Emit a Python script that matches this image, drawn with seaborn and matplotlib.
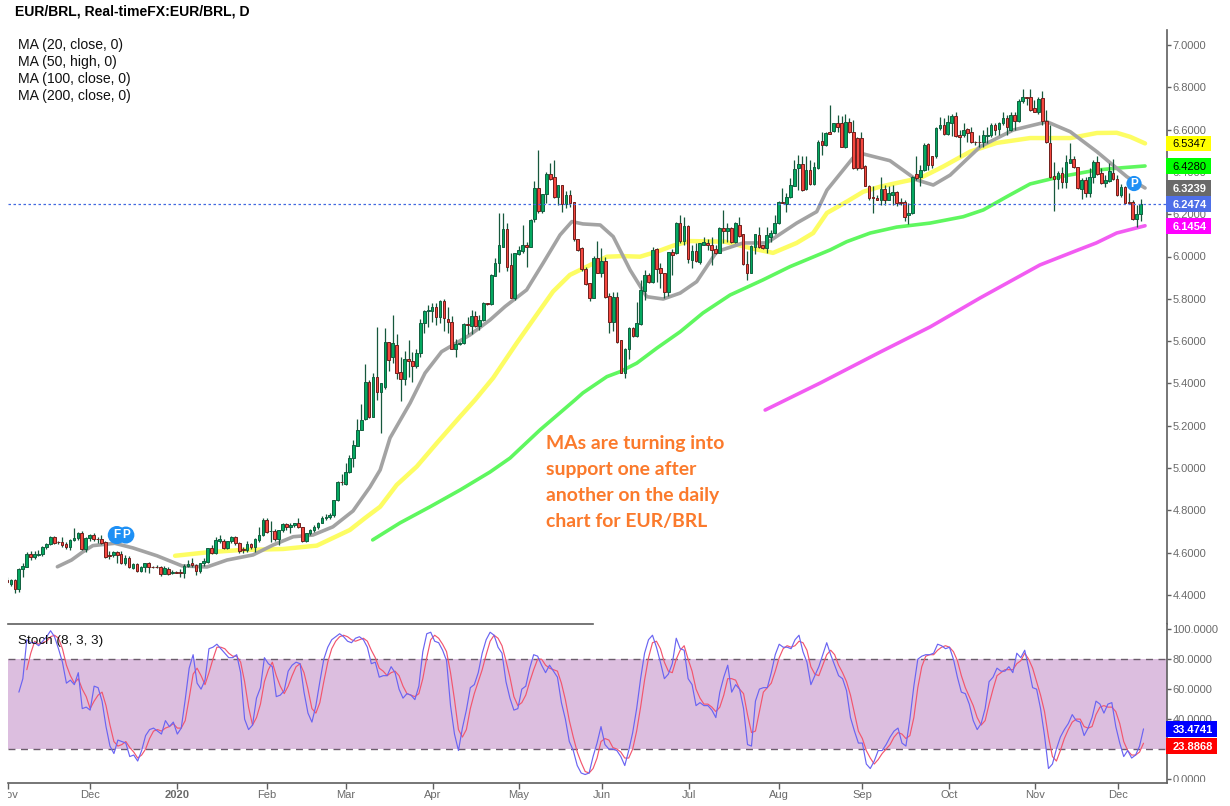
import numpy as np
import matplotlib
matplotlib.use("Agg")
import matplotlib.pyplot as plt
import seaborn as sns
from matplotlib.patches import Rectangle
from matplotlib.transforms import Bbox, TransformedBbox

# daily candles
bar_open = [
    4.470, 4.451, 4.470, 4.426, 4.521, 4.533, 4.593, 4.581, 4.590, 4.593,
    4.625, 4.640, 4.672, 4.650, 4.648, 4.639, 4.628, 4.659, 4.667, 4.691,
    4.615, 4.667, 4.681, 4.664, 4.662, 4.648, 4.587, 4.587, 4.603, 4.593,
    4.552, 4.573, 4.527, 4.544, 4.514, 4.530, 4.549, 4.532, 4.532, 4.532,
    4.500, 4.522, 4.503, 4.510, 4.506, 4.502, 4.538, 4.549, 4.540, 4.514,
    4.549, 4.557, 4.620, 4.599, 4.656, 4.656, 4.620, 4.653, 4.672, 4.644,
    4.615, 4.612, 4.640, 4.625, 4.659, 4.683, 4.754, 4.700, 4.703, 4.662,
    4.707, 4.733, 4.719, 4.730, 4.738, 4.719, 4.656, 4.691, 4.707, 4.719,
    4.741, 4.762, 4.767, 4.779, 4.848, 4.935, 4.923, 4.982, 5.045, 5.105,
    5.182, 5.230, 5.408, 5.239, 5.428, 5.361, 5.384, 5.594, 5.523, 5.580,
    5.452, 5.419, 5.517, 5.504, 5.484, 5.542, 5.684, 5.740, 5.744, 5.759,
    5.712, 5.789, 5.703, 5.692, 5.565, 5.585, 5.589, 5.681, 5.673, 5.719,
    5.673, 5.700, 5.778, 5.774, 5.909, 5.968, 6.046, 6.130, 5.960, 5.802,
    6.012, 6.028, 6.054, 6.046, 6.176, 6.322, 6.217, 6.294, 6.390, 6.374,
    6.283, 6.338, 6.248, 6.291, 6.256, 6.081, 6.042, 5.939, 5.873, 5.805,
    5.993, 5.923, 5.979, 5.813, 5.692, 5.810, 5.605, 5.448, 5.561, 5.660,
    5.624, 5.681, 5.838, 5.912, 5.881, 6.034, 5.944, 5.920, 5.830, 6.020,
    6.015, 6.160, 6.075, 6.144, 5.983, 6.027, 5.976, 6.054, 6.065, 6.054,
    6.034, 6.018, 6.133, 6.122, 6.133, 6.070, 6.149, 6.106, 5.963, 5.924,
    6.046, 6.102, 6.053, 6.042, 6.094, 6.110, 6.157, 6.259, 6.247, 6.280,
    6.334, 6.417, 6.438, 6.318, 6.410, 6.343, 6.417, 6.547, 6.526, 6.591,
    6.595, 6.633, 6.633, 6.520, 6.638, 6.591, 6.562, 6.559, 6.428, 6.334,
    6.279, 6.277, 6.265, 6.318, 6.265, 6.291, 6.307, 6.260, 6.257, 6.194,
    6.205, 6.389, 6.378, 6.410, 6.532, 6.473, 6.473, 6.606, 6.622, 6.580,
    6.633, 6.665, 6.575, 6.575, 6.602, 6.591, 6.542, 6.543, 6.542, 6.570,
    6.575, 6.622, 6.602, 6.630, 6.657, 6.599, 6.670, 6.643, 6.733, 6.753,
    6.753, 6.701, 6.685, 6.748, 6.643, 6.536, 6.381, 6.365, 6.397, 6.353,
    6.444, 6.460, 6.422, 6.320, 6.362, 6.302, 6.378, 6.449, 6.394, 6.346,
    6.359, 6.394, 6.365, 6.291, 6.328, 6.260, 6.257, 6.178, 6.201,
]
bar_high = [
    4.483, 4.476, 4.473, 4.525, 4.549, 4.604, 4.609, 4.609, 4.612, 4.631,
    4.647, 4.678, 4.678, 4.656, 4.675, 4.651, 4.662, 4.714, 4.699, 4.703,
    4.675, 4.688, 4.691, 4.675, 4.683, 4.653, 4.609, 4.609, 4.609, 4.609,
    4.588, 4.584, 4.552, 4.549, 4.536, 4.552, 4.557, 4.536, 4.541, 4.536,
    4.536, 4.530, 4.517, 4.514, 4.521, 4.544, 4.565, 4.573, 4.546, 4.552,
    4.573, 4.623, 4.636, 4.675, 4.683, 4.662, 4.656, 4.678, 4.678, 4.651,
    4.628, 4.656, 4.647, 4.667, 4.722, 4.762, 4.762, 4.751, 4.710, 4.707,
    4.741, 4.741, 4.741, 4.741, 4.762, 4.722, 4.694, 4.710, 4.730, 4.746,
    4.773, 4.782, 4.785, 4.851, 4.938, 4.971, 5.025, 5.061, 5.132, 5.230,
    5.302, 5.491, 5.416, 5.447, 5.665, 5.400, 5.660, 5.597, 5.723, 5.633,
    5.523, 5.553, 5.605, 5.550, 5.565, 5.703, 5.747, 5.770, 5.781, 5.778,
    5.794, 5.800, 5.762, 5.718, 5.608, 5.596, 5.687, 5.715, 5.747, 5.744,
    5.723, 5.786, 5.782, 5.917, 5.991, 6.207, 6.204, 6.160, 6.015, 6.018,
    6.050, 6.149, 6.070, 6.176, 6.358, 6.503, 6.295, 6.401, 6.440, 6.456,
    6.338, 6.338, 6.311, 6.314, 6.256, 6.081, 6.043, 5.952, 5.876, 6.002,
    6.075, 6.038, 5.999, 5.829, 5.834, 5.834, 5.605, 5.566, 5.665, 5.668,
    5.786, 5.889, 5.936, 5.920, 6.046, 6.038, 5.968, 5.923, 6.023, 6.034,
    6.163, 6.196, 6.188, 6.149, 6.054, 6.062, 6.065, 6.091, 6.081, 6.094,
    6.054, 6.138, 6.220, 6.157, 6.138, 6.165, 6.185, 6.106, 6.026, 6.054,
    6.106, 6.141, 6.054, 6.138, 6.125, 6.196, 6.262, 6.322, 6.299, 6.370,
    6.457, 6.480, 6.476, 6.473, 6.457, 6.449, 6.551, 6.591, 6.591, 6.717,
    6.633, 6.670, 6.662, 6.674, 6.654, 6.646, 6.567, 6.591, 6.433, 6.339,
    6.331, 6.291, 6.378, 6.339, 6.331, 6.339, 6.310, 6.276, 6.268, 6.252,
    6.381, 6.476, 6.433, 6.539, 6.536, 6.476, 6.610, 6.658, 6.654, 6.670,
    6.673, 6.685, 6.599, 6.630, 6.607, 6.614, 6.548, 6.575, 6.599, 6.614,
    6.633, 6.630, 6.638, 6.685, 6.670, 6.685, 6.685, 6.744, 6.791, 6.756,
    6.791, 6.740, 6.756, 6.783, 6.693, 6.622, 6.449, 6.402, 6.425, 6.480,
    6.536, 6.473, 6.425, 6.370, 6.378, 6.417, 6.457, 6.476, 6.417, 6.386,
    6.441, 6.460, 6.386, 6.343, 6.331, 6.299, 6.265, 6.244, 6.272,
]
bar_low = [
    4.454, 4.442, 4.410, 4.415, 4.486, 4.530, 4.565, 4.568, 4.584, 4.584,
    4.615, 4.636, 4.640, 4.640, 4.628, 4.615, 4.612, 4.656, 4.659, 4.612,
    4.604, 4.656, 4.656, 4.644, 4.640, 4.573, 4.568, 4.577, 4.549, 4.546,
    4.541, 4.525, 4.521, 4.510, 4.510, 4.510, 4.505, 4.525, 4.525, 4.491,
    4.497, 4.494, 4.499, 4.502, 4.483, 4.478, 4.530, 4.533, 4.494, 4.505,
    4.536, 4.549, 4.593, 4.593, 4.644, 4.615, 4.615, 4.647, 4.636, 4.599,
    4.599, 4.604, 4.615, 4.604, 4.651, 4.678, 4.691, 4.651, 4.656, 4.634,
    4.699, 4.707, 4.694, 4.722, 4.714, 4.651, 4.651, 4.683, 4.699, 4.710,
    4.738, 4.754, 4.757, 4.770, 4.845, 4.919, 4.919, 4.974, 5.006, 5.105,
    5.179, 5.227, 5.235, 5.239, 5.321, 5.164, 5.372, 5.460, 5.495, 5.419,
    5.318, 5.392, 5.432, 5.408, 5.471, 5.526, 5.640, 5.668, 5.692, 5.676,
    5.684, 5.649, 5.636, 5.561, 5.523, 5.581, 5.585, 5.633, 5.633, 5.668,
    5.652, 5.697, 5.771, 5.771, 5.909, 5.928, 6.046, 5.933, 5.802, 5.794,
    6.007, 6.015, 5.949, 6.046, 6.165, 6.204, 6.204, 6.251, 6.362, 6.275,
    6.243, 6.212, 6.228, 6.232, 6.075, 6.027, 5.933, 5.865, 5.791, 5.802,
    5.920, 5.905, 5.802, 5.637, 5.649, 5.589, 5.448, 5.424, 5.514, 5.621,
    5.618, 5.676, 5.794, 5.873, 5.876, 5.881, 5.849, 5.802, 5.813, 5.912,
    6.012, 6.062, 6.054, 5.971, 5.944, 5.976, 5.964, 6.054, 6.031, 5.960,
    6.012, 6.015, 6.062, 6.070, 6.062, 6.065, 6.094, 5.960, 5.889, 5.920,
    6.012, 6.039, 6.034, 6.015, 6.070, 6.106, 6.154, 6.251, 6.212, 6.276,
    6.331, 6.315, 6.312, 6.315, 6.339, 6.339, 6.413, 6.480, 6.523, 6.580,
    6.591, 6.591, 6.520, 6.512, 6.583, 6.413, 6.410, 6.413, 6.331, 6.268,
    6.208, 6.265, 6.244, 6.244, 6.265, 6.244, 6.239, 6.244, 6.170, 6.154,
    6.202, 6.362, 6.334, 6.406, 6.410, 6.417, 6.465, 6.599, 6.575, 6.575,
    6.570, 6.564, 6.469, 6.567, 6.543, 6.536, 6.528, 6.520, 6.520, 6.536,
    6.567, 6.575, 6.575, 6.622, 6.575, 6.594, 6.599, 6.638, 6.725, 6.717,
    6.690, 6.681, 6.674, 6.622, 6.536, 6.370, 6.217, 6.318, 6.323, 6.323,
    6.441, 6.417, 6.318, 6.271, 6.280, 6.283, 6.346, 6.386, 6.343, 6.328,
    6.354, 6.362, 6.287, 6.283, 6.252, 6.249, 6.173, 6.138, 6.170,
]
bar_close = [
    4.462, 4.470, 4.426, 4.521, 4.536, 4.593, 4.581, 4.593, 4.593, 4.625,
    4.640, 4.672, 4.647, 4.648, 4.637, 4.628, 4.659, 4.667, 4.694, 4.615,
    4.667, 4.681, 4.662, 4.662, 4.647, 4.581, 4.584, 4.603, 4.590, 4.552,
    4.573, 4.530, 4.546, 4.514, 4.530, 4.549, 4.530, 4.530, 4.530, 4.500,
    4.527, 4.500, 4.506, 4.505, 4.502, 4.538, 4.547, 4.540, 4.514, 4.549,
    4.562, 4.620, 4.599, 4.659, 4.662, 4.620, 4.653, 4.672, 4.644, 4.609,
    4.612, 4.640, 4.625, 4.662, 4.683, 4.754, 4.699, 4.703, 4.662, 4.707,
    4.735, 4.719, 4.730, 4.738, 4.719, 4.656, 4.691, 4.707, 4.722, 4.741,
    4.762, 4.770, 4.779, 4.848, 4.935, 4.933, 4.982, 5.045, 5.108, 5.182,
    5.227, 5.408, 5.239, 5.428, 5.361, 5.400, 5.594, 5.513, 5.589, 5.450,
    5.419, 5.517, 5.504, 5.484, 5.542, 5.684, 5.740, 5.747, 5.759, 5.712,
    5.789, 5.707, 5.692, 5.565, 5.584, 5.592, 5.679, 5.674, 5.719, 5.673,
    5.700, 5.782, 5.775, 5.912, 5.968, 6.054, 6.130, 5.952, 5.805, 6.015,
    6.031, 6.054, 6.046, 6.172, 6.322, 6.215, 6.295, 6.390, 6.368, 6.283,
    6.338, 6.248, 6.291, 6.251, 6.081, 6.031, 5.939, 5.870, 5.805, 5.993,
    5.923, 5.979, 5.810, 5.692, 5.810, 5.597, 5.451, 5.561, 5.660, 5.624,
    5.687, 5.842, 5.912, 5.881, 6.031, 5.939, 5.920, 5.830, 6.020, 6.009,
    6.157, 6.075, 6.144, 5.986, 6.027, 5.980, 6.062, 6.067, 6.056, 6.031,
    6.018, 6.133, 6.122, 6.133, 6.070, 6.157, 6.099, 5.963, 5.924, 6.050,
    6.105, 6.046, 6.042, 6.102, 6.110, 6.157, 6.259, 6.251, 6.280, 6.338,
    6.413, 6.438, 6.315, 6.410, 6.343, 6.422, 6.542, 6.528, 6.586, 6.580,
    6.630, 6.614, 6.520, 6.638, 6.591, 6.417, 6.417, 6.417, 6.334, 6.276,
    6.276, 6.268, 6.318, 6.265, 6.302, 6.307, 6.252, 6.252, 6.189, 6.208,
    6.378, 6.373, 6.410, 6.528, 6.433, 6.433, 6.606, 6.622, 6.579, 6.638,
    6.665, 6.570, 6.564, 6.599, 6.586, 6.543, 6.540, 6.542, 6.575, 6.575,
    6.622, 6.599, 6.630, 6.654, 6.610, 6.670, 6.643, 6.737, 6.753, 6.751,
    6.693, 6.685, 6.744, 6.643, 6.543, 6.375, 6.365, 6.397, 6.350, 6.449,
    6.460, 6.422, 6.323, 6.362, 6.302, 6.378, 6.449, 6.391, 6.346, 6.362,
    6.402, 6.365, 6.291, 6.328, 6.255, 6.252, 6.176, 6.201, 6.2474,
]

# moving averages: bar number and level where the line bends
ma20_bar = [12.8, 16.4, 19.3, 21.8, 27.4, 32, 38.1, 44.5, 50.8, 55.9, 62.5, 67.6, 72.7, 77.7, 82.8, 87.9,
            92.2, 94.8, 97.3, 102.4, 106.2, 110.4, 117.6, 122.7, 126.5, 132, 136.2, 140.5, 143.5, 146.3,
            150.7, 154, 158.3, 162.5, 166.7, 171, 175.2, 180.3, 187, 193, 200.6, 205.7, 208.3, 214.9,
            217.5, 224.3, 231.1, 235.3, 239.6, 247.2, 255.6, 264.2, 270.1, 276.9, 284.5, 289.1]
ma20_val = [4.533, 4.565, 4.604, 4.633, 4.644, 4.622, 4.585, 4.537, 4.532, 4.565, 4.589, 4.636, 4.675, 4.683, 4.722, 4.797,
            4.910, 4.991, 5.142, 5.307, 5.449, 5.550, 5.629, 5.700, 5.763, 5.842, 5.969, 6.102, 6.165, 6.154,
            6.149, 6.094, 5.936, 5.810, 5.799, 5.827, 5.881, 6.023, 6.064, 6.064, 6.158, 6.212, 6.314, 6.466,
            6.485, 6.453, 6.362, 6.338, 6.385, 6.519, 6.598, 6.637, 6.590, 6.495, 6.377, 6.3239]
ma50_bar = [42.7, 50.7, 59.2, 70.1, 78.7, 87.1, 91, 94.8, 99, 104.1, 109.2, 115.1, 118.9, 123.5, 129.5, 135.4,
            138.7, 143, 147.3, 152.4, 156.5, 160.8, 165.1, 169.2, 173.5, 182.4, 188.8, 194.6, 200.6, 204.8,
            208.3, 213.3, 217.5, 221.8, 227.6, 232, 237.8, 244.7, 251.4, 259.9, 270.1, 276.9, 281.9, 285.3, 289.1]
ma50_val = [4.585, 4.601, 4.612, 4.617, 4.633, 4.707, 4.764, 4.817, 4.920, 5.007, 5.118, 5.243, 5.322, 5.426, 5.591, 5.747,
            5.834, 5.913, 5.952, 5.999, 6.002, 5.999, 6.023, 6.051, 6.073, 6.070, 6.040, 6.017, 6.064, 6.111,
            6.206, 6.259, 6.306, 6.330, 6.354, 6.371, 6.425, 6.496, 6.537, 6.560, 6.560, 6.584, 6.585, 6.566, 6.5347]
ma100_bar = [92.9, 99.8, 107.5, 115.1, 122.7, 127.8, 135.4, 144.3, 146.3, 152.4, 155.7, 160, 165.1, 171, 176.8, 183.7,
             192, 198.9, 206, 209.1, 213.3, 219.3, 226, 234.5, 242.9, 248, 254, 259.9, 267.5, 276.9, 283.5, 289.1]
ma100_val = [4.660, 4.740, 4.817, 4.896, 4.981, 5.047, 5.180, 5.322, 5.355, 5.432, 5.455, 5.496, 5.567, 5.644, 5.733, 5.818,
             5.889, 5.952, 6.007, 6.031, 6.070, 6.111, 6.139, 6.158, 6.188, 6.220, 6.283, 6.343, 6.377, 6.409, 6.420, 6.4280]
ma200_bar = [192.6, 206.6, 221.8, 234.5, 247.2, 262.4, 272.1, 276.7, 281.9, 289.1]
ma200_val = [5.274, 5.402, 5.548, 5.667, 5.804, 5.960, 6.031, 6.064, 6.111, 6.1454]

# stochastic %K from bar 3, %D from bar 5
stoch_k = [
    58, 67, 93, 91, 91, 89, 92, 95, 99, 95, 87, 78, 64, 66, 63, 71, 47, 48, 46, 62,
    61, 52, 35, 22, 17, 26, 25, 24, 15, 16, 12, 19, 29, 33, 34, 32, 30, 39, 35, 38,
    30, 34, 53, 74, 83, 64, 60, 66, 87, 88, 90, 87, 84, 81, 81, 83, 71, 40, 33, 36,
    54, 61, 81, 77, 75, 55, 56, 59, 72, 76, 78, 77, 58, 44, 38, 49, 65, 80, 88, 93,
    95, 97, 95, 92, 91, 94, 95, 93, 88, 77, 78, 68, 69, 69, 75, 71, 60,
    54, 57, 56, 53, 62, 85, 97, 98, 92, 91, 86, 79, 49, 30, 19, 34, 46, 61, 63, 71,
    84, 93, 98, 96, 88, 84, 65, 54, 46, 47, 60, 62, 74, 83, 82, 76, 71, 76, 72, 68,
    51, 40, 25, 19, 9, 4, 3, 4, 15, 24, 35, 23, 20, 20, 19, 15, 9, 19, 31, 47,
    67, 84, 93, 96, 88, 78, 67, 70, 77, 94, 87, 86, 67, 63, 49, 51, 49, 49, 46, 41,
    58, 68, 76, 58, 63, 60, 47, 23, 22, 52, 60, 61, 61, 71, 83, 90, 88, 88, 87, 93, 96,
    85, 78, 63, 69, 75, 83, 91, 83, 76, 69, 67, 59, 41, 32, 24, 24, 10, 7, 12, 19,
    19, 23, 28, 32, 34, 24, 22, 40, 62, 80, 82, 83, 83, 84, 90, 89, 87, 88, 80, 68,
    58, 57, 50, 39, 33, 37, 47, 65, 68, 74, 72, 72, 75, 71, 84, 81, 86, 74, 61, 60,
    47, 29, 7, 10, 20, 28, 33, 37, 43, 39, 38, 29, 34, 41, 52, 50, 44, 50, 51, 35,
    24, 15, 19, 14, 16, 22, 33.47,
]
stoch_d = [
    73, 84, 92, 90, 91, 92, 95, 96, 94, 87, 76, 69, 64, 67, 60, 55, 47, 52, 56, 58,
    49, 36, 25, 22, 23, 25, 21, 18, 14, 16, 20, 27, 32, 33, 32, 34, 35, 37, 34, 34,
    39, 54, 70, 74, 69, 63, 71, 80, 88, 88, 87, 84, 82, 82, 78, 65, 48, 36, 41, 50,
    65, 73, 78, 69, 62, 57, 62, 69, 75, 77, 71, 60, 47, 44, 51, 65, 78, 87, 92, 95,
    96, 95, 93, 92, 93, 94, 92, 86, 81, 74, 72, 69, 71, 72, 69,
    62, 57, 56, 55, 57, 67, 81, 93, 96, 94, 90, 85, 71, 53, 33, 28, 33, 47, 57, 65,
    73, 83, 92, 96, 94, 89, 79, 68, 55, 49, 51, 56, 65, 73, 80, 80, 76, 74, 73, 72,
    64, 53, 39, 28, 18, 11, 5, 4, 7, 14, 25, 27, 26, 21, 20, 18, 14, 14, 20, 32,
    48, 66, 81, 91, 92, 87, 78, 72, 71, 80, 86, 89, 80, 72, 60, 54, 50, 50, 48, 45,
    48, 56, 67, 67, 66, 60, 57, 43, 31, 32, 45, 58, 61, 64, 72, 81, 87, 89, 88, 89, 92,
    91, 86, 75, 70, 69, 76, 83, 86, 83, 76, 71, 65, 56, 44, 32, 27, 19, 14, 10, 13,
    17, 20, 23, 28, 31, 30, 27, 29, 41, 61, 75, 82, 83, 83, 86, 88, 89, 88, 85, 79,
    69, 61, 55, 49, 41, 36, 39, 50, 60, 69, 71, 73, 73, 73, 77, 79, 84, 80, 74, 65,
    56, 45, 28, 15, 12, 19, 27, 33, 38, 40, 40, 35, 34, 35, 43, 48, 49, 48, 48, 45,
    37, 25, 19, 16, 16, 18, 23.89,
]

price_ticks = [4.4, 4.6, 4.8, 5.0, 5.2, 5.4, 5.6, 5.8, 6.0, 6.2, 6.4, 6.6, 6.8, 7.0]
stoch_ticks = [0, 20, 40, 60, 80, 100]
month_pos = [0.25, 21, 42.9, 65.7, 85.6, 107.6, 129.3, 150.3, 172.2, 194.9, 215.9, 237.9, 259.6, 280.6]
month_labels = ["Nov", "Dec", "2020", "Feb", "Mar", "Apr", "May", "Jun", "Jul", "Aug", "Sep", "Oct", "Nov", "Dec"]
ma_labels = ["MA (20, close, 0)", "MA (50, high, 0)", "MA (100, close, 0)", "MA (200, close, 0)"]
note_lines = ["MAs are turning into", "support one after", "another on the daily", "chart for EUR/BRL"]
flag_bar = [27.9, 30.2, 286.3]
flag_val = [4.683, 4.683, 6.345]
flag_letter = ["F", "P", "P"]

W, H = 1230, 806
AXIS_GREY = "#5f5f5f"
TEXT_GREY = "#6a6a6a"

sns.set_theme(style="white")
plt.rcParams["font.family"] = ["Liberation Sans", "DejaVu Sans"]

fig = plt.figure(figsize=(W / 100, H / 100), dpi=100, facecolor="white")
ax = fig.add_axes([8 / W, 1 - 624 / H, 1159 / W, 594 / H])
ax2 = fig.add_axes([8 / W, 1 - 782.6 / H, 1159 / W, 158.6 / H])

# candles
o = np.array(bar_open)
c = np.array(bar_close)
bars = np.arange(len(o))
up = c >= o
ax.vlines(bars, bar_low, bar_high, color="#17583d", linewidth=0.9, zorder=4)
ax.bar(bars[up], (c - o)[up], bottom=o[up], width=0.68, color="#04a860", edgecolor="#10603f", linewidth=0.7, zorder=5)
ax.bar(bars[~up], (o - c)[~up], bottom=c[~up], width=0.68, color="#f5473f", edgecolor="#701f1c", linewidth=0.7, zorder=5)

# moving averages go under the candles
sns.lineplot(x=ma200_bar, y=ma200_val, ax=ax, color="#f25cf2", linewidth=2.6, estimator=None, sort=False, zorder=2)
sns.lineplot(x=ma100_bar, y=ma100_val, ax=ax, color="#5ff75f", linewidth=2.6, estimator=None, sort=False, zorder=2)
sns.lineplot(x=ma50_bar, y=ma50_val, ax=ax, color="#fdfd63", linewidth=3.2, estimator=None, sort=False, zorder=2)
sns.lineplot(x=ma20_bar, y=ma20_val, ax=ax, color="#a3a3a3", linewidth=2.6, estimator=None, sort=False, zorder=3)

ax.axhline(bar_close[-1], color="#4169e1", linewidth=0.9, linestyle=(0, (2, 2)), zorder=6)

# event flags
ax.scatter(flag_bar, flag_val, s=[170, 150, 120], color="#1e90f5", linewidth=0, zorder=7)
for xb, yv, letter in zip(flag_bar, flag_val, flag_letter):
    ax.text(xb, yv, letter, color="white", fontsize=8.5, fontweight="bold", ha="center", va="center", zorder=8)

step = (1140.7 - 7) / (len(o) - 1)
ax.set_xlim(1 / step, 1160 / step)
ax.set_ylim(7 - 579 / 211.5, 7 + 15 / 211.5)
ax.set_xticks([])
ax.yaxis.tick_right()
ax.set_yticks(price_ticks)
ax.set_yticklabels([f"{t:.4f}" for t in price_ticks])
ax.tick_params(axis="y", length=3, width=1, color=AXIS_GREY, labelcolor=TEXT_GREY, labelsize=8, pad=1, right=True)
for side in ["top", "left", "bottom"]:
    ax.spines[side].set_visible(False)
ax.spines["right"].set_color(AXIS_GREY)
ax.spines["right"].set_linewidth(1.2)

# stochastic panel
ax2.axhspan(20, 80, color="#dcbedf", linewidth=0, zorder=1)
for level in [20, 80]:
    ax2.axhline(level, color="#6b5c6b", linewidth=1, linestyle=(0, (5, 4)), zorder=2)
sns.lineplot(x=np.arange(5, 5 + len(stoch_d)), y=stoch_d, ax=ax2, color="#f2566e", linewidth=0.85, estimator=None, zorder=3)
sns.lineplot(x=np.arange(3, 3 + len(stoch_k)), y=stoch_k, ax=ax2, color="#6a64f2", linewidth=0.85, estimator=None, zorder=4)

ax2.set_xlim(1 / 3.96, 1160 / 3.96)
ax2.set_ylim(-2.4, 103.5)
ax2.yaxis.tick_right()
ax2.set_yticks(stoch_ticks)
ax2.set_yticklabels([f"{t:.4f}" for t in stoch_ticks])
ax2.set_xticks(month_pos)
ax2.set_xticklabels(month_labels)
ax2.tick_params(axis="y", length=3, width=1, color=AXIS_GREY, labelcolor=TEXT_GREY, labelsize=8, pad=1, right=True)
ax2.tick_params(axis="x", length=4, width=1, color=AXIS_GREY, labelcolor=TEXT_GREY, labelsize=8, pad=1, bottom=True)
ax2.spines["left"].set_visible(False)
for side in ["top", "right", "bottom"]:
    ax2.spines[side].set_color(AXIS_GREY)
    ax2.spines[side].set_linewidth(1.2)
ax2.spines["top"].set_bounds(ax2.get_xlim()[0], 148)

month_texts = ax2.get_xticklabels()
month_texts[2].set_fontweight("bold")
# first label runs off the chart on the left
month_texts[0].set_clip_box(TransformedBbox(Bbox([[8 / W, 0], [1, 1]]), fig.transFigure))
month_texts[0].set_clip_on(True)
for lab in ax2.get_yticklabels():
    lab.set_clip_box(TransformedBbox(Bbox([[0, 1 - 781.5 / H], [1, 1]]), fig.transFigure))
    lab.set_clip_on(True)


def badge(axis, value, text, face, fg, width, shift=0):
    yc = axis.transData.transform((0, value))[1] - shift
    fig.add_artist(Rectangle((1166 / W, (yc - 7.8) / H), width / W, 15.6 / H, facecolor=face,
                             edgecolor="none", transform=fig.transFigure))
    fig.text(1172.5 / W, yc / H, text, color=fg, fontsize=8, ha="left", va="center_baseline",
             fontweight="normal" if fg == "black" else "bold")


badge(ax, 6.5347, "6.5347", "#ffff00", "black", 45)
badge(ax, 6.4280, "6.4280", "#00ff00", "black", 45)
badge(ax, 6.3239, "6.3239", "#696969", "white", 45)
badge(ax, 6.2474, "6.2474", "#4f6fe8", "white", 45)
badge(ax, 6.1454, "6.1454", "#ff00ff", "white", 45)
badge(ax2, 33.4741, "33.4741", "#0000ff", "white", 50.7)
badge(ax2, 23.8868, "23.8868", "#ff0000", "white", 50.7, shift=2.5)

fig.text(15 / W, 1 - 11.5 / H, "EUR/BRL, Real-timeFX:EUR/BRL, D", color="black", fontsize=10.05, fontweight="bold", va="center")
for ypx, label in zip([45, 62, 79, 96], ma_labels):
    fig.text(17.7 / W, 1 - ypx / H, label, color="#111111", fontsize=10.1, va="center")
fig.text(17.5 / W, 1 - 641 / H, "Stoch (8, 3, 3)", color="#111111", fontsize=9.7, va="center")
for ypx, line in zip([443.5, 469.5, 495.5, 521.5], note_lines):
    fig.text(546 / W, 1 - ypx / H, line, color="#fb7a2c", fontsize=13.95, fontweight="bold",
             family=["Lato", "DejaVu Sans"], va="center")

fig.savefig("out.png", dpi=100)
